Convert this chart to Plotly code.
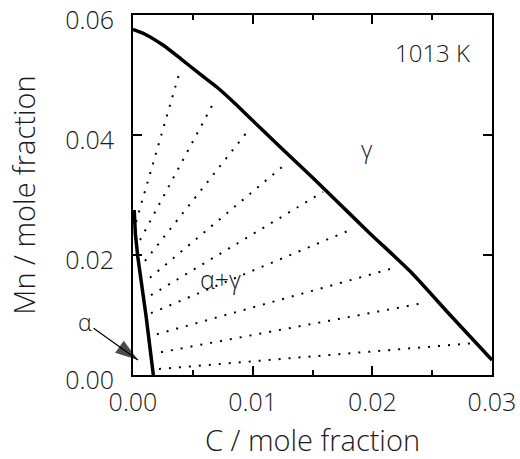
import plotly.graph_objects as go

# gamma / (alpha+gamma) phase boundary
gamma_c = [0.0, 0.0010, 0.0025, 0.0040, 0.0055, 0.0070, 0.0085, 0.0100,
           0.0123, 0.0148, 0.0165, 0.0198, 0.0232, 0.0265, 0.0300]
gamma_mn = [0.0576, 0.0568, 0.0550, 0.0527, 0.0503, 0.0480, 0.0453, 0.0424,
            0.0380, 0.0333, 0.0300, 0.0236, 0.0172, 0.0100, 0.0025]

# alpha / (alpha+gamma) phase boundary
alpha_c = [0.0001, 0.0002, 0.0004, 0.0011, 0.0017]
alpha_mn = [0.0275, 0.0235, 0.0197, 0.0097, 0.0]

# tie lines: alpha-side end and gamma-side end
tie_alpha_c = [0.00025, 0.00059, 0.0010, 0.00142, 0.0015, 0.0015, 0.0020, 0.00234, 0.00217]
tie_alpha_mn = [0.0255, 0.0225, 0.0190, 0.0162, 0.0133, 0.0103, 0.0068, 0.0038, 0.0010]
tie_gamma_c = [0.00387, 0.00685, 0.00953, 0.01253, 0.01588, 0.0183, 0.0221, 0.0243, 0.0284]
tie_gamma_mn = [0.0503, 0.0458, 0.0405, 0.0348, 0.0305, 0.0243, 0.0180, 0.0120, 0.0053]

x_ticks = [0.0, 0.01, 0.02, 0.03]
x_tick_labels = ["0.00", "0.01", "0.02", "0.03"]
x_minor_ticks = [0.005, 0.015, 0.025]
y_ticks = [0.0, 0.02, 0.04, 0.06]
y_tick_labels = ["0.00", "0.02", "0.04", "0.06"]

# label anchors (data coordinates)
alpha_label_pos = (-0.0040, 0.0088)
alpha_arrow_tip = (0.00042, 0.0025)
two_phase_label_pos = (0.00727, 0.0160)
gamma_label_pos = (0.01955, 0.0378)
temp_label_pos = (0.0250, 0.0538)

FONT = "Open Sans"
WEIGHT = 300
INK = "#1a1a1a"


def text_font(size):
    return dict(family=FONT, size=size, color=INK, weight=WEIGHT)


fig = go.Figure()

for ca, ma, cg, mg in zip(tie_alpha_c, tie_alpha_mn, tie_gamma_c, tie_gamma_mn):
    fig.add_trace(go.Scatter(
        x=[ca, cg], y=[ma, mg], mode="lines",
        line=dict(color="black", width=2, dash="2px,8px"),
        hoverinfo="skip", showlegend=False))

fig.add_trace(go.Scatter(x=gamma_c, y=gamma_mn, mode="lines",
                         line=dict(color="black", width=3.5, shape="spline", smoothing=0.6),
                         showlegend=False))
fig.add_trace(go.Scatter(x=alpha_c, y=alpha_mn, mode="lines",
                         line=dict(color="black", width=3.5), showlegend=False))

# arrow pointing at the alpha field
fig.add_annotation(x=alpha_arrow_tip[0], y=alpha_arrow_tip[1],
                   ax=alpha_label_pos[0], ay=alpha_label_pos[1],
                   axref="x", ayref="y", xref="x", yref="y",
                   text="α", showarrow=True, arrowhead=0, arrowwidth=1.2,
                   arrowcolor="black", standoff=0, font=text_font(23))
fig.add_trace(go.Scatter(
    x=[alpha_label_pos[0], alpha_arrow_tip[0]],
    y=[alpha_label_pos[1], alpha_arrow_tip[1]],
    mode="markers", cliponaxis=False, showlegend=False, hoverinfo="skip",
    marker=dict(symbol=["circle", "arrow"], size=[0, 24], angleref="previous",
                color="black", line=dict(width=0))))

fig.add_annotation(x=two_phase_label_pos[0], y=two_phase_label_pos[1],
                   text="α+γ", showarrow=False, font=text_font(25))
fig.add_annotation(x=gamma_label_pos[0], y=gamma_label_pos[1],
                   text="γ", showarrow=False, font=text_font(24))
fig.add_annotation(x=temp_label_pos[0], y=temp_label_pos[1],
                   text="1013 K", showarrow=False, font=text_font(24))

axis_common = dict(
    ticks="inside", ticklen=9, tickwidth=2, tickcolor="black",
    showline=True, linewidth=2, linecolor="black", mirror="ticks",
    showgrid=False, zeroline=False, ticklabeloverflow="allow",
    tickfont=text_font(25),
)

fig.update_xaxes(range=[0, 0.03], tickmode="array", tickvals=x_ticks,
                 ticktext=x_tick_labels, ticklabelstandoff=4,
                 minor=dict(tickmode="array", tickvals=x_minor_ticks, ticks="inside",
                            ticklen=5, tickwidth=2, tickcolor="black", showgrid=False),
                 title=dict(text="C / mole fraction", standoff=15, font=text_font(29)),
                 **axis_common)
fig.update_yaxes(range=[0, 0.06], tickmode="array", tickvals=y_ticks,
                 ticktext=y_tick_labels, ticklabelstandoff=12,
                 ticklabelposition="outside", ticklabelshift=5,
                 title=dict(text="Mn / mole fraction", standoff=21, font=text_font(29)),
                 **axis_common)

fig.update_layout(width=520, height=459,
                  margin=dict(l=133, r=28, t=15, b=84, autoexpand=False),
                  plot_bgcolor="white", paper_bgcolor="white",
                  showlegend=False)

fig.write_html("out.html")
